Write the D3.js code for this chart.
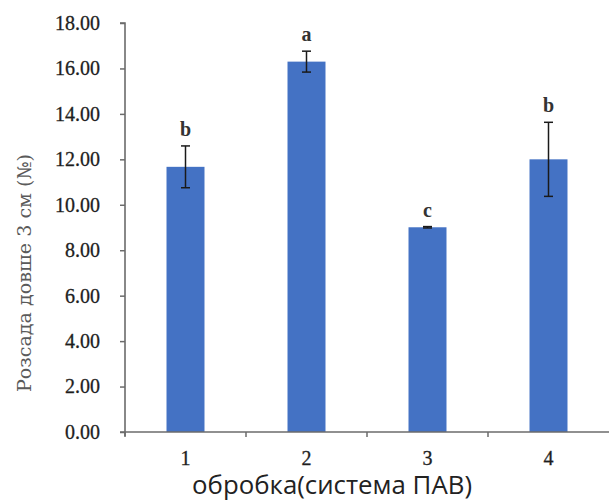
<!DOCTYPE html>
<html>
<head>
<meta charset="utf-8">
<script src="https://cdn.jsdelivr.net/npm/d3@7"></script>
<style>
  html, body { margin: 0; padding: 0; background: #fff; }
  svg { display: block; }
</style>
</head>
<body>
<script>
// Treatments (surfactant systems) and mean seedling counts with error ranges
const categories = ["1", "2", "3", "4"];
const means = [11.67, 16.30, 9.01, 12.00];
const errors = [0.92, 0.46, 0.03, 1.63];
const groupLetters = ["b", "a", "c", "b"];
const yTicks = [0, 2, 4, 6, 8, 10, 12, 14, 16, 18];

const width = 615, height = 500;
const margin = { left: 125, right: 6, top: 23, bottom: 68 };

const svg = d3.select("body").append("svg")
  .attr("width", width).attr("height", height);

const x = d3.scaleBand()
  .domain(categories)
  .range([margin.left, width - margin.right])
  .paddingInner(0.686)
  .paddingOuter(0.343);

const y = d3.scaleLinear()
  .domain([0, 18])
  .range([height - margin.bottom, margin.top]);

const axisColor = "#6b6b6b";
const serif = "'Liberation Serif', 'DejaVu Serif', serif";

// Bars
svg.append("g").selectAll("rect")
  .data(means)
  .join("rect")
  .attr("x", (d, i) => x(categories[i]))
  .attr("y", d => y(d))
  .attr("width", x.bandwidth())
  .attr("height", d => y(0) - y(d))
  .attr("fill", "#4472C4");

// Y axis
const yAxis = svg.append("g")
  .attr("transform", `translate(${margin.left},0)`)
  .call(d3.axisLeft(y).tickValues(yTicks).tickFormat(d3.format(".2f")).tickSize(5).tickPadding(20));
yAxis.select(".domain").attr("stroke", axisColor).attr("stroke-width", 1.6)
  .attr("d", `M-5,${y(18)}H0V${y(0) + 4}`);
yAxis.selectAll(".tick line").attr("stroke", axisColor).attr("stroke-width", 1.5);
yAxis.selectAll(".tick text")
  .attr("font-family", serif).attr("font-size", 20).attr("fill", "#1e1e1e")
  .attr("stroke", "#1e1e1e").attr("stroke-width", 0.3);

// X axis: ticks sit between categories
const bounds = d3.range(categories.length + 1).map(i => margin.left + i * x.step());
const xAxis = svg.append("g");
xAxis.append("line")
  .attr("x1", margin.left - 5).attr("x2", width - margin.right)
  .attr("y1", y(0)).attr("y2", y(0))
  .attr("stroke", axisColor).attr("stroke-width", 1.6);
xAxis.selectAll("line.tk")
  .data(bounds.slice(0, categories.length))
  .join("line")
  .attr("class", "tk")
  .attr("x1", d => d).attr("x2", d => d)
  .attr("y1", y(0)).attr("y2", y(0) + 5)
  .attr("stroke", axisColor).attr("stroke-width", 1.5);
xAxis.selectAll("text")
  .data(categories)
  .join("text")
  .attr("x", d => x(d) + x.bandwidth() / 2)
  .attr("y", y(0) + 33)
  .attr("text-anchor", "middle")
  .attr("font-family", serif).attr("font-size", 20).attr("fill", "#1e1e1e")
  .attr("stroke", "#1e1e1e").attr("stroke-width", 0.3)
  .text(d => d);

// Error bars
const eb = svg.append("g").attr("stroke", "#1a1a1a").attr("stroke-width", 1.5);
means.forEach((m, i) => {
  const cx = x(categories[i]) + x.bandwidth() / 2;
  const top = y(m + errors[i]), bot = y(m - errors[i]);
  eb.append("line").attr("x1", cx).attr("x2", cx).attr("y1", top).attr("y2", bot);
  eb.append("line").attr("x1", cx - 4.5).attr("x2", cx + 4.5).attr("y1", top).attr("y2", top);
  eb.append("line").attr("x1", cx - 4.5).attr("x2", cx + 4.5).attr("y1", bot).attr("y2", bot);
});

// Significance letters
svg.append("g").selectAll("text")
  .data(means)
  .join("text")
  .attr("x", (d, i) => x(categories[i]) + x.bandwidth() / 2)
  .attr("y", (d, i) => y(d + errors[i]) - 10)
  .attr("text-anchor", "middle")
  .attr("font-family", serif).attr("font-size", 20).attr("font-weight", "bold")
  .attr("fill", "#333")
  .text((d, i) => groupLetters[i]);

// Axis titles
svg.append("text")
  .attr("transform", `translate(31,273) rotate(-90)`)
  .attr("text-anchor", "middle")
  .attr("font-family", "'DejaVu Serif', 'Liberation Serif', serif").attr("font-size", 19).attr("fill", "#5a5a5a")
  .attr("textLength", 238).attr("lengthAdjust", "spacingAndGlyphs")
  .text("Розсада довше 3 см (№)");

svg.append("text")
  .attr("x", 332).attr("y", 494)
  .attr("text-anchor", "middle")
  .attr("font-family", "'Open Sans', 'Noto Sans', sans-serif").attr("font-size", 25).attr("fill", "#222")
  .attr("textLength", 280).attr("lengthAdjust", "spacingAndGlyphs")
  .text("обробка(система ПАВ)");
</script>
</body>
</html>
